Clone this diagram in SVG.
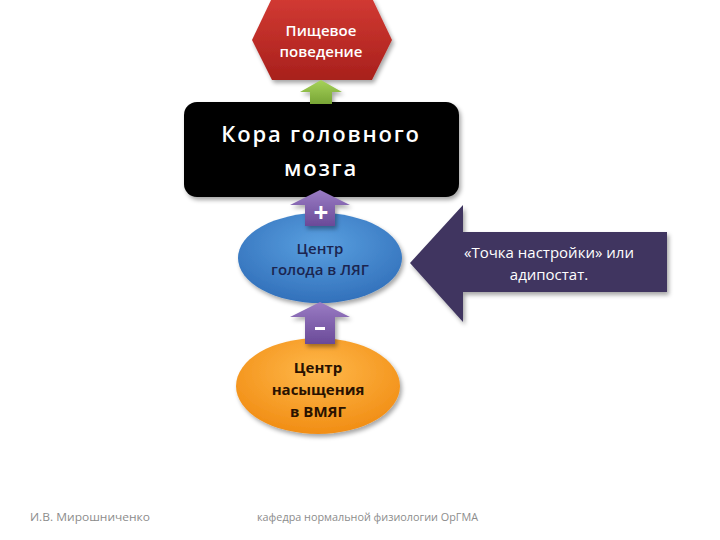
<svg xmlns="http://www.w3.org/2000/svg" width="720" height="540" viewBox="0 0 720 540">
<defs>
<linearGradient id="gRed" x1="0" y1="0" x2="0" y2="1"><stop offset="0" stop-color="#D23A33"/><stop offset="1" stop-color="#A8201C"/></linearGradient>
<linearGradient id="gGreen" x1="0" y1="0" x2="0" y2="1"><stop offset="0" stop-color="#A6D25A"/><stop offset="1" stop-color="#78A535"/></linearGradient>
<linearGradient id="gPurple" x1="0" y1="0" x2="0" y2="1"><stop offset="0" stop-color="#9A7CC4"/><stop offset="1" stop-color="#6A4A98"/></linearGradient>
<radialGradient id="gBlue" cx="0.5" cy="0.35" r="0.7"><stop offset="0" stop-color="#5AA0E0"/><stop offset="1" stop-color="#2F6DB8"/></radialGradient>
<radialGradient id="gOrange" cx="0.5" cy="0.35" r="0.7"><stop offset="0" stop-color="#FFB84A"/><stop offset="1" stop-color="#F08A10"/></radialGradient>
<filter id="sh" x="-10%" y="-10%" width="130%" height="130%"><feDropShadow dx="2" dy="3" stdDeviation="2" flood-opacity="0.35"/></filter>
</defs>
<style>
text{font-family:"Open Sans","Liberation Sans",sans-serif;text-anchor:middle}
.lbl{font-size:15px}
.foot{font-size:11px;fill:#8C8C8C;text-anchor:start}
</style>
<rect width="720" height="540" fill="#FFFFFF"/>
<g id="behavior">
<polygon points="272,-2 372,-2 392,40 372,80 272,80 252,40" fill="url(#gRed)" filter="url(#sh)"/>
<text x="321" y="36" font-size="15" font-weight="600" fill="#FFFFFF">Пищевое</text>
<text x="321" y="57" font-size="15" font-weight="600" fill="#FFFFFF">поведение</text>
</g>
<g id="cortex">
<rect x="184" y="102" width="275" height="95" rx="13" fill="#000000" filter="url(#sh)"/>
<text x="321" y="142" font-size="22" font-weight="600" fill="#FFFFFF" letter-spacing="1.8">Кора головного</text>
<text x="321" y="176" font-size="22" font-weight="600" fill="#FFFFFF" letter-spacing="1.8">мозга</text>
</g>
<g id="hunger">
<ellipse cx="320" cy="258" rx="82" ry="45" fill="url(#gBlue)" filter="url(#sh)"/>
<text x="320" y="254" class="lbl" font-weight="600" fill="#1B2550">Центр</text>
<text x="320" y="275" class="lbl" font-weight="600" fill="#1B2550">голода в ЛЯГ</text>
</g>
<g id="satiety">
<ellipse cx="318" cy="386" rx="82" ry="48" fill="url(#gOrange)" filter="url(#sh)"/>
<text x="318" y="373" class="lbl" font-weight="bold" fill="#2A1200">Центр</text>
<text x="318" y="395" class="lbl" font-weight="bold" fill="#2A1200">насыщения</text>
<text x="318" y="417" class="lbl" font-weight="bold" fill="#2A1200">в ВМЯГ</text>
</g>
<g id="setpoint">
<polygon points="410,263 463,205 463,232 667,232 667,292 463,292 463,322" fill="#3F3560" filter="url(#sh)"/>
<text x="549" y="258" class="lbl" fill="#FFFFFF">«Точка настройки» или</text>
<text x="549" y="280" class="lbl" fill="#FFFFFF">адипостат.</text>
</g>
<g id="connectors">
<path d="M321,80 L342,92 L332,92 L332,104 L310,104 L310,92 L300,92 Z" fill="url(#gGreen)" filter="url(#sh)"/>
<path d="M320,190 L350,205 L335,205 L335,226 L305,226 L305,205 L290,205 Z" fill="url(#gPurple)" filter="url(#sh)"/>
<path d="M320,302 L350,317 L335,317 L335,344 L305,344 L305,317 L290,317 Z" fill="url(#gPurple)" filter="url(#sh)"/>
<text x="321" y="222" font-size="26" font-weight="bold" fill="#FFFFFF">+</text>
<rect x="315" y="327" width="10" height="3" fill="#FFFFFF"/>
</g>
<g id="footer">
<text x="30" y="521" class="foot" textLength="120" lengthAdjust="spacingAndGlyphs">И.В. Мирошниченко</text>
<text x="257" y="521" class="foot" textLength="221" lengthAdjust="spacingAndGlyphs">кафедра нормальной физиологии ОрГМА</text>
</g>
</svg>
